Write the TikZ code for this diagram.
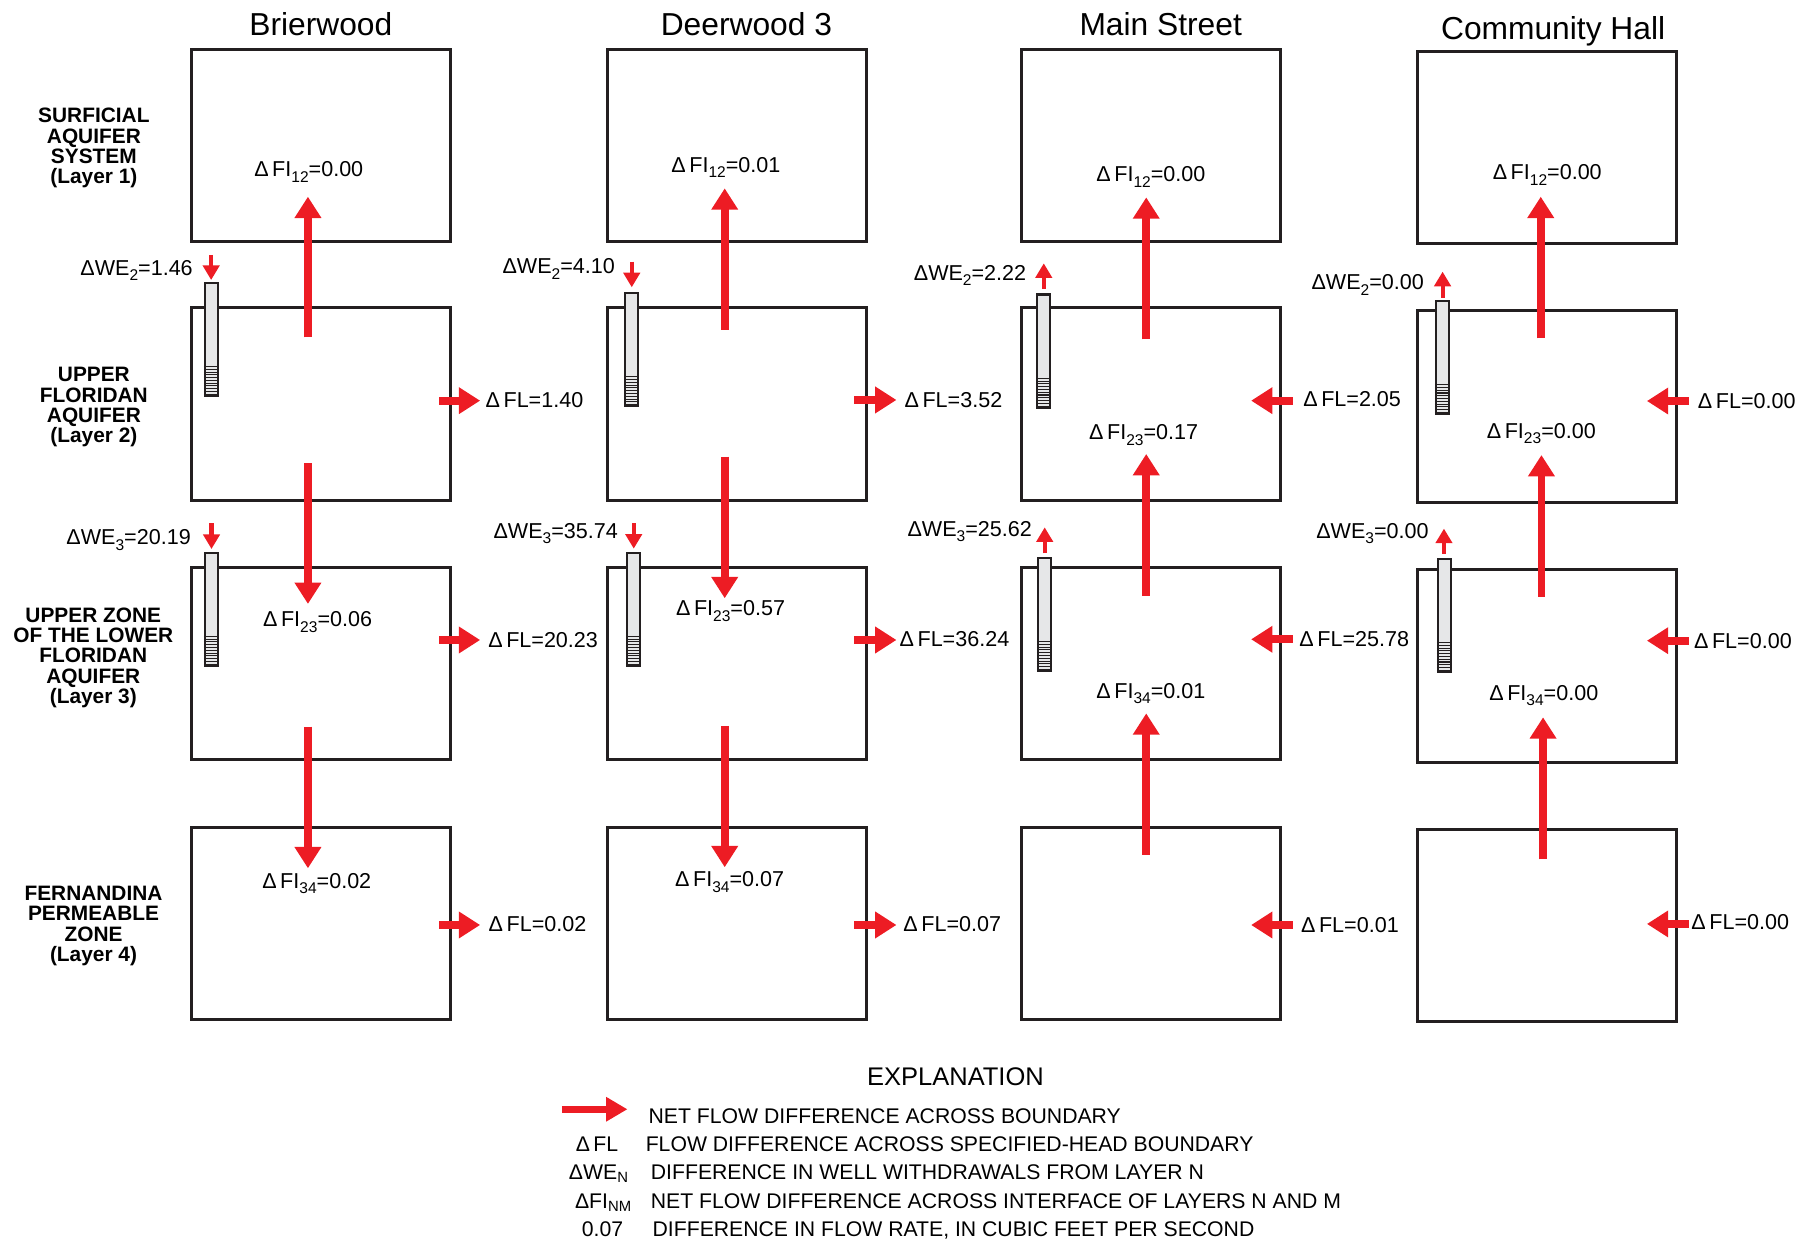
\documentclass[tikz,border=0pt]{standalone}
\usepackage{fontspec}
\setmainfont{Liberation Sans}
\usepackage{tikz}
\usetikzlibrary{arrows.meta,positioning}

\definecolor{flowred}{HTML}{ED1C24}
\definecolor{boxline}{HTML}{231F20}
\definecolor{casing}{HTML}{E6E7E8}

\newcommand{\lowsub}[1]{\raisebox{-2.4pt}{\fontsize{6.7}{8}\selectfont #1}}

\tikzset{
	layerbox/.style={draw=boxline, line width=1.3pt, minimum width=111.5pt, minimum height=83pt, inner sep=0pt},
	site/.style={font=\fontsize{13.7}{16}\selectfont, anchor=base, inner sep=0pt},
	layername/.style={font=\fontsize{9}{8.8}\selectfont\bfseries, align=center, inner sep=0pt},
	val/.style={font=\fontsize{9.3}{11}\selectfont, inner sep=0pt},
	flow/.style={draw=flowred, line width=3.4pt, -{Triangle[width=11pt,length=9.2pt]}},
	legflow/.style={draw=flowred, line width=2.9pt, -{Triangle[width=10pt,length=9.2pt]}},
	pump/.style={draw=flowred, line width=1.8pt, -{Triangle[width=7pt,length=6.3pt]}},
	well/.style={draw=boxline, fill=casing, line width=0.9pt, minimum width=5.6pt, minimum height=48.9pt, inner sep=0pt},
	screen/.style={draw=boxline, line width=0.45pt},
	legend/.style={font=\fontsize{9.15}{10}\selectfont, inner sep=0pt},
}

\begin{document}
\begin{tikzpicture}[x=0.5pt,y=-0.5pt]
	\useasboundingbox (0,0) rectangle (1560,1070.8);

	% site names
	\node[site] (bwname) at (276.8,30.2) {Brierwood};
	\node[site] (dwname) at (644,30.2) {Deerwood 3};
	\node[site] (msname) at (1001.5,31) {Main Street};
	\node[site] (chname) at (1340.1,33.9) {Community Hall};

	% layer names
	\node[layername] (lay1) at (81,127.8) {SURFICIAL\\AQUIFER\\SYSTEM\\(Layer 1)};
	\node[layername] (lay2) at (81,351.4) {UPPER\\FLORIDAN\\AQUIFER\\(Layer 2)};
	\node[layername] (lay3) at (80.5,567.5) {UPPER ZONE\\OF THE LOWER\\FLORIDAN\\AQUIFER\\(Layer 3)};
	\node[layername] (lay4) at (80.7,799) {FERNANDINA\\PERMEABLE\\ZONE\\(Layer 4)};

	% layer boxes
	\node[layerbox] (bw1) at (276.9,125.4) {};
	\node[layerbox] (bw2) at (276.9,348.7) {};
	\node[layerbox] (bw3) at (276.9,572.6) {};
	\node[layerbox] (bw4) at (276.9,796.7) {};
	\node[layerbox] (dw1) at (636,125.4) {};
	\node[layerbox] (dw2) at (636,348.7) {};
	\node[layerbox] (dw3) at (636,572.6) {};
	\node[layerbox] (dw4) at (636,796.7) {};
	\node[layerbox] (ms1) at (993,125.4) {};
	\node[layerbox] (ms2) at (993,348.7) {};
	\node[layerbox] (ms3) at (993,572.6) {};
	\node[layerbox] (ms4) at (993,796.7) {};
	\node[layerbox] (ch1) at (1334.8,127.3) {};
	\node[layerbox] (ch2) at (1334.8,350.9) {};
	\node[layerbox] (ch3) at (1334.8,574.7) {};
	\node[layerbox] (ch4) at (1334.8,798.4) {};

	% flow across interfaces
	\coordinate (bw21s) at (265.7,291);   \coordinate (bw21e) at (265.7,169.7);
	\coordinate (bw23s) at (265.7,399.8); \coordinate (bw23e) at (265.7,521.1);
	\coordinate (bw34s) at (265.7,627);   \coordinate (bw34e) at (265.7,749.2);
	\coordinate (dw21s) at (625.3,284.7); \coordinate (dw21e) at (625.3,162.5);
	\coordinate (dw23s) at (625.3,394);   \coordinate (dw23e) at (625.3,516.2);
	\coordinate (dw34s) at (625.3,626.4); \coordinate (dw34e) at (625.3,748.3);
	\coordinate (ms21s) at (989,292.8);   \coordinate (ms21e) at (989,170.3);
	\coordinate (ms32s) at (989,514.2);   \coordinate (ms32e) at (989,391.7);
	\coordinate (ms43s) at (989,737.7);   \coordinate (ms43e) at (989,615.5);
	\coordinate (ch21s) at (1329.4,291.9); \coordinate (ch21e) at (1329.4,169.7);
	\coordinate (ch32s) at (1330,514.8);   \coordinate (ch32e) at (1330,392.6);
	\coordinate (ch43s) at (1331.4,741.4); \coordinate (ch43e) at (1331.4,618.9);
	\draw[flow] (bw21s) -- (bw21e);
	\draw[flow] (bw23s) -- (bw23e);
	\draw[flow] (bw34s) -- (bw34e);
	\draw[flow] (dw21s) -- (dw21e);
	\draw[flow] (dw23s) -- (dw23e);
	\draw[flow] (dw34s) -- (dw34e);
	\draw[flow] (ms21s) -- (ms21e);
	\draw[flow] (ms32s) -- (ms32e);
	\draw[flow] (ms43s) -- (ms43e);
	\draw[flow] (ch21s) -- (ch21e);
	\draw[flow] (ch32s) -- (ch32e);
	\draw[flow] (ch43s) -- (ch43e);

	\node[val, anchor=base] (bwfi12) at (266.4,152.4) {Δ\,FI\lowsub{12}=0.00};
	\node[val, anchor=base] (bwfi23) at (274,540.7) {Δ\,FI\lowsub{23}=0.06};
	\node[val, anchor=base] (bwfi34) at (273.3,766.5) {Δ\,FI\lowsub{34}=0.02};
	\node[val, anchor=base] (dwfi12) at (626.3,148.7) {Δ\,FI\lowsub{12}=0.01};
	\node[val, anchor=base] (dwfi23) at (630.3,531.2) {Δ\,FI\lowsub{23}=0.57};
	\node[val, anchor=base] (dwfi34) at (629.6,765) {Δ\,FI\lowsub{34}=0.07};
	\node[val, anchor=base] (msfi12) at (993,156.7) {Δ\,FI\lowsub{12}=0.00};
	\node[val, anchor=base] (msfi23) at (986.8,379.6) {Δ\,FI\lowsub{23}=0.17};
	\node[val, anchor=base] (msfi34) at (993,602.5) {Δ\,FI\lowsub{34}=0.01};
	\node[val, anchor=base] (chfi12) at (1335,155.3) {Δ\,FI\lowsub{12}=0.00};
	\node[val, anchor=base] (chfi23) at (1329.9,378.2) {Δ\,FI\lowsub{23}=0.00};
	\node[val, anchor=base] (chfi34) at (1332,604) {Δ\,FI\lowsub{34}=0.00};

	% flow across specified-head boundary
	\coordinate (bwfl2s) at (379,345.7); \coordinate (bwfl2e) at (414.3,345.7);
	\coordinate (bwfl3s) at (379,552.2); \coordinate (bwfl3e) at (414.3,552.2);
	\coordinate (bwfl4s) at (379,798.1); \coordinate (bwfl4e) at (414.3,798.1);
	\coordinate (dwfl2s) at (737.2,345.1); \coordinate (dwfl2e) at (773.5,345.1);
	\coordinate (dwfl3s) at (737.2,552.2); \coordinate (dwfl3e) at (773.5,552.2);
	\coordinate (dwfl4s) at (737.2,798.1); \coordinate (dwfl4e) at (773.5,798.1);
	\coordinate (msfl2s) at (1115.5,345.7); \coordinate (msfl2e) at (1079.5,345.7);
	\coordinate (msfl3s) at (1115.5,551.6); \coordinate (msfl3e) at (1079.5,551.6);
	\coordinate (msfl4s) at (1115.5,798.1); \coordinate (msfl4e) at (1079.5,798.1);
	\coordinate (chfl2s) at (1457,346);   \coordinate (chfl2e) at (1421,346);
	\coordinate (chfl3s) at (1457,552.8); \coordinate (chfl3e) at (1421,552.8);
	\coordinate (chfl4s) at (1457,797.2); \coordinate (chfl4e) at (1421,797.2);
	\draw[flow] (bwfl2s) -- (bwfl2e);
	\draw[flow] (bwfl3s) -- (bwfl3e);
	\draw[flow] (bwfl4s) -- (bwfl4e);
	\draw[flow] (dwfl2s) -- (dwfl2e);
	\draw[flow] (dwfl3s) -- (dwfl3e);
	\draw[flow] (dwfl4s) -- (dwfl4e);
	\draw[flow] (msfl2s) -- (msfl2e);
	\draw[flow] (msfl3s) -- (msfl3e);
	\draw[flow] (msfl4s) -- (msfl4e);
	\draw[flow] (chfl2s) -- (chfl2e);
	\draw[flow] (chfl3s) -- (chfl3e);
	\draw[flow] (chfl4s) -- (chfl4e);

	\node[val, anchor=base west] (bwfl2) at (418.6,351.5) {Δ\,FL=1.40};
	\node[val, anchor=base west] (bwfl3) at (420.9,558.5) {Δ\,FL=20.23};
	\node[val, anchor=base west] (bwfl4) at (421.2,803.8) {Δ\,FL=0.02};
	\node[val, anchor=base west] (dwfl2) at (780.1,351.5) {Δ\,FL=3.52};
	\node[val, anchor=base west] (dwfl3) at (775.8,558) {Δ\,FL=36.24};
	\node[val, anchor=base west] (dwfl4) at (779.1,803.8) {Δ\,FL=0.07};
	\node[val, anchor=base west] (msfl2) at (1124.1,350.9) {Δ\,FL=2.05};
	\node[val, anchor=base west] (msfl3) at (1120.8,558) {Δ\,FL=25.78};
	\node[val, anchor=base west] (msfl4) at (1122.2,804.7) {Δ\,FL=0.01};
	\node[val, anchor=base west] (chfl2) at (1464.6,352.3) {Δ\,FL=0.00};
	\node[val, anchor=base west] (chfl3) at (1461.3,559.4) {Δ\,FL=0.00};
	\node[val, anchor=base west] (chfl4) at (1459,802.4) {Δ\,FL=0.00};

	% wells
	\node[well] (bwwell2) at (182.4,292.8) {};
	\node[well] (bwwell3) at (182.5,525.7) {};
	\node[well] (dwwell2) at (545,301.7) {};
	\node[well] (dwwell3) at (546.8,525.7) {};
	\node[well] (mswell2) at (900.6,303) {};
	\node[well] (mswell3) at (901.1,530.2) {};
	\node[well] (chwell2) at (1244.6,308.5) {};
	\node[well] (chwell3) at (1246.3,531) {};
	\foreach \w in {bwwell2,bwwell3,dwwell2,dwwell3,mswell2,mswell3,chwell2,chwell3}
		\foreach \k in {1,...,11}
			\draw[screen] ([yshift=\k*1.2pt]\w.south west) -- ([yshift=\k*1.2pt]\w.south east);

	% well withdrawals
	\coordinate (bwwe2s) at (182.2,220);   \coordinate (bwwe2e) at (182.2,241.6);
	\coordinate (bwwe3s) at (182.5,451.5); \coordinate (bwwe3e) at (182.5,473.7);
	\coordinate (dwwe2s) at (545.1,225.8); \coordinate (dwwe2e) at (545.1,247.9);
	\coordinate (dwwe3s) at (546.8,451.5); \coordinate (dwwe3e) at (546.8,473.4);
	\coordinate (mswe2s) at (900.6,249.1); \coordinate (mswe2e) at (900.6,227.2);
	\coordinate (mswe3s) at (901.4,477.4); \coordinate (mswe3e) at (901.4,455);
	\coordinate (chwe2s) at (1244.7,256.8); \coordinate (chwe2e) at (1244.7,234.4);
	\coordinate (chwe3s) at (1245.9,478);   \coordinate (chwe3e) at (1245.9,456.1);
	\draw[pump] (bwwe2s) -- (bwwe2e);
	\draw[pump] (bwwe3s) -- (bwwe3e);
	\draw[pump] (dwwe2s) -- (dwwe2e);
	\draw[pump] (dwwe3s) -- (dwwe3e);
	\draw[pump] (mswe2s) -- (mswe2e);
	\draw[pump] (mswe3s) -- (mswe3e);
	\draw[pump] (chwe2s) -- (chwe2e);
	\draw[pump] (chwe3s) -- (chwe3e);

	\node[val, anchor=base east] (bwwe2) at (166.7,237.3) {ΔWE\lowsub{2}=1.46};
	\node[val, anchor=base east] (bwwe3) at (165,470.2) {ΔWE\lowsub{3}=20.19};
	\node[val, anchor=base east] (dwwe2) at (530.9,236.4) {ΔWE\lowsub{2}=4.10};
	\node[val, anchor=base east] (dwwe3) at (533.5,464.5) {ΔWE\lowsub{3}=35.74};
	\node[val, anchor=base east] (mswe2) at (885.8,241.6) {ΔWE\lowsub{2}=2.22};
	\node[val, anchor=base east] (mswe3) at (890.7,462.5) {ΔWE\lowsub{3}=25.62};
	\node[val, anchor=base east] (chwe2) at (1228.9,250.2) {ΔWE\lowsub{2}=0.00};
	\node[val, anchor=base east] (chwe3) at (1233,464.5) {ΔWE\lowsub{3}=0.00};

	% explanation
	\node[font=\fontsize{11}{13}\selectfont, anchor=base, inner sep=0pt] (explain) at (824.4,937) {EXPLANATION};
	\coordinate (legs) at (484.9,957.1); \coordinate (lege) at (541.4,957.1);
	\draw[legflow] (legs) -- (lege);
	\node[legend, anchor=base west] (legtext1) at (559.3,969.7) {NET FLOW DIFFERENCE ACROSS BOUNDARY};
	\node[legend, anchor=base] (legsym2) at (515.1,993.6) {Δ\,FL};
	\node[legend, anchor=base west] (legtext2) at (556.8,993.6) {FLOW DIFFERENCE ACROSS SPECIFIED-HEAD BOUNDARY};
	\node[legend, anchor=base] (legsym3) at (516.9,1018.1) {ΔWE\textsubscript{N}};
	\node[legend, anchor=base west] (legtext3) at (561.2,1018.1) {DIFFERENCE IN WELL WITHDRAWALS FROM LAYER N};
	\node[legend, anchor=base] (legsym4) at (520.9,1042.5) {ΔFI\textsubscript{NM}};
	\node[legend, anchor=base west] (legtext4) at (561.2,1042.5) {NET FLOW DIFFERENCE ACROSS INTERFACE OF LAYERS N AND M};
	\node[legend, anchor=base] (legsym5) at (519.9,1067) {0.07};
	\node[legend, anchor=base west] (legtext5) at (562.7,1067) {DIFFERENCE IN FLOW RATE, IN CUBIC FEET PER SECOND};
\end{tikzpicture}
\end{document}
